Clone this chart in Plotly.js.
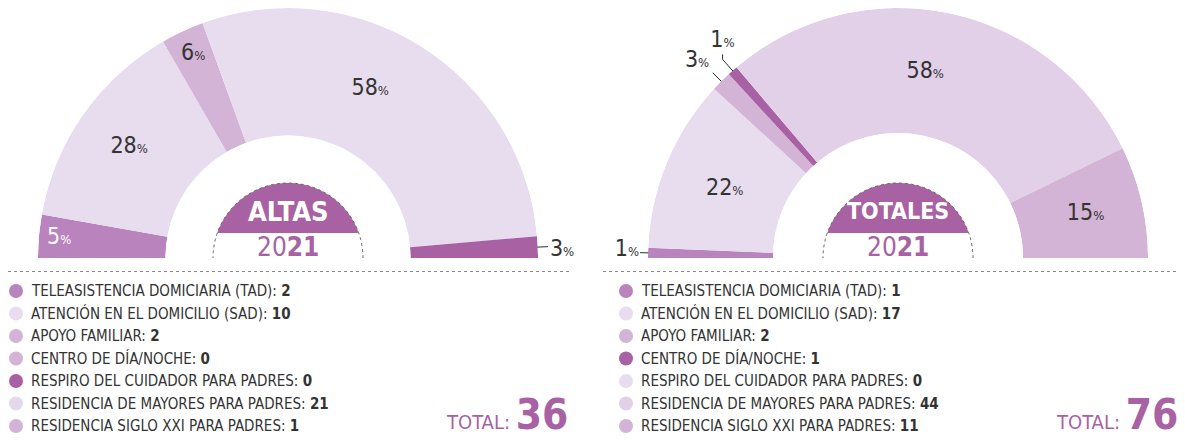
<!DOCTYPE html>
<html><head><meta charset="utf-8">
<script src="https://cdn.plot.ly/plotly-3.0.1.min.js"></script>
<style>html,body{margin:0;padding:0;background:#fff}#chart{width:1185px;height:441px}</style>
</head><body><div id="chart"></div>
<script>
// ---------------- DATA ----------------
const categories = [
  "TELEASISTENCIA DOMICIARIA (TAD)",
  "ATENCIÓN EN EL DOMICILIO (SAD)",
  "APOYO FAMILIAR",
  "CENTRO DE DÍA/NOCHE",
  "RESPIRO DEL CUIDADOR PARA PADRES",
  "RESIDENCIA DE MAYORES PARA PADRES",
  "RESIDENCIA SIGLO XXI PARA PADRES"
];
const altasValues   = [2, 10, 2, 0, 0, 21, 1];
const totalesValues = [1, 17, 2, 1, 0, 44, 11];
const altasPctLabels   = ["5", "28", "6", "", "", "58", "3"];
const totalesPctLabels = ["1", "22", "3", "1", "", "58", "15"];
const chartTitles = ["ALTAS", "TOTALES"];
const yearLabel = ["20", "21"];
const totalLabel = "TOTAL:";

// ---------------- STYLE ----------------
const W = 1185, H = 441;
const px = x => x / W;
const py = y => 1 - y / H;
const TXT = '#333333';
const PURPLE = '#a862a3';
const NARROW = '"Liberation Sans Narrow", "DejaVu Sans Condensed", sans-serif';
const COND = '"DejaVu Sans Condensed", "Liberation Sans Narrow", sans-serif';
const PCT = n => n + '<span style="font-size:13px">%</span>';

const charts = [
  {
    values: altasValues, pct: altasPctLabels, title: chartTitles[0], titleSize: 27,
    cx: 288, cy: 258, R: 250, hole: 0.49, subplot: 'polar',
    sliceColors:  ['#b983bd','#e8dcef','#d3b3d6','#d3b3d6','#a862a3','#e8dcef','#a862a3'],
    legendColors: ['#b983bd','#e8dcef','#d3b3d6','#d3b3d6','#a862a3','#e6d8ec','#d3b3d6'],
    // label placement: radius (polar r units), theta offset, text colour, leader [r1, r2]
    lab: [
      {r:0.84, dt:0, c:'#ffffff'},
      {r:0.56, dt:0, c:TXT},
      {r:0.80, dt:0, c:TXT},
      null, null,
      {r:0.51, dt:6.5, c:TXT},
      {r:1.19, dt:-0.8, c:TXT, lead:[0.93, 1.08]}
    ],
    legendX: 16, dotLine: [8, 572], totalRight: 570
  },
  {
    values: totalesValues, pct: totalesPctLabels, title: chartTitles[1], titleSize: 23,
    cx: 898, cy: 258, R: 250, hole: 0.5, subplot: 'polar2',
    sliceColors:  ['#b983bd','#e8dcef','#d3b3d6','#a862a3','#e8dcef','#e1d0e7','#d3b3d6'],
    legendColors: ['#b983bd','#e8dcef','#d3b3d6','#a862a3','#e8dcef','#e1d0e7','#d3b3d6'],
    lab: [
      {r:1.17, dt:-0.5, c:TXT, lead:[0.944, 1.064]},
      {r:0.49, dt:1, c:TXT},
      {r:1.25, dt:0.6, c:TXT, lead:[0.96, 1.096]},
      {r:1.23, dt:-2.4, c:TXT, lead:[0.99, 1.12], up:5},
      null,
      {r:0.50, dt:3.5, c:TXT},
      {r:0.54, dt:0, c:TXT}
    ],
    legendX: 626, dotLine: [603, 1176], totalRight: 1180
  }
];

const rowY = [291, 313.5, 336, 358.5, 381, 403.5, 426];

const traces = [];
const shapes = [];
const annotations = [];
const layout = {
  width: W, height: H, autosize: false,
  margin: {l:0, r:0, t:0, b:0},
  paper_bgcolor: '#ffffff', plot_bgcolor: 'rgba(0,0,0,0)',
  showlegend: false,
  // full-figure pixel axes used for labels that sit outside the rings
  xaxis: {range: [0, W], domain: [0, 1], visible: false, fixedrange: true},
  yaxis: {range: [H, 0], domain: [0, 1], visible: false, fixedrange: true},
  shapes, annotations
};

charts.forEach(ch => {
  const total = ch.values.reduce((a, b) => a + b, 0);
  const inner = ch.hole * ch.R, band = ch.R - inner;
  const toXY = (r, deg) => {
    const rp = inner + r * band, a = deg * Math.PI / 180;
    return [ch.cx + rp * Math.cos(a), ch.cy - rp * Math.sin(a)];
  };
  // angular geometry from values
  let cum = 0;
  const mids = [], widths = [];
  ch.values.forEach(v => {
    widths.push(v / total * 180);
    mids.push(180 - (cum + v / 2) / total * 180);
    cum += v;
  });
  const idx = ch.values.map((v, i) => i).filter(i => ch.values[i] > 0);

  traces.push({
    type: 'barpolar', subplot: ch.subplot,
    r: idx.map(() => 1),
    theta: idx.map(i => mids[i]),
    width: idx.map(i => widths[i]),
    marker: {color: idx.map(i => ch.sliceColors[i]), line: {width: 0}},
    hoverinfo: 'skip'
  });

  // inside percentage labels (polar)
  const li = idx.filter(i => ch.lab[i] && !ch.lab[i].lead && ch.pct[i] !== "");
  traces.push({
    type: 'scatterpolar', subplot: ch.subplot, mode: 'text',
    r: li.map(i => ch.lab[i].r),
    theta: li.map(i => mids[i] + ch.lab[i].dt),
    text: li.map(i => PCT(ch.pct[i])),
    textposition: 'middle center',
    textfont: {family: COND, size: 23, color: li.map(i => ch.lab[i].c)},
    cliponaxis: false, hoverinfo: 'skip'
  });

  // outside labels with leader lines (pixel axes)
  const lo = idx.filter(i => ch.lab[i] && ch.lab[i].lead);
  const lx = [], ly = [];
  lo.forEach(i => {
    const l = ch.lab[i];
    const p1 = toXY(l.lead[0], mids[i]), p2 = toXY(l.lead[1], mids[i]);
    lx.push(p1[0], p2[0]); ly.push(p1[1], p2[1]);
    if (l.up) { lx.push(p2[0]); ly.push(p2[1] - l.up); }
    lx.push(null); ly.push(null);
  });
  traces.push({
    type: 'scatter', xaxis: 'x', yaxis: 'y', mode: 'lines',
    x: lx, y: ly, line: {color: '#2b2b2b', width: 1},
    cliponaxis: false, hoverinfo: 'skip', connectgaps: false
  });
  traces.push({
    type: 'scatter', xaxis: 'x', yaxis: 'y', mode: 'text',
    x: lo.map(i => toXY(ch.lab[i].r, mids[i] + ch.lab[i].dt)[0]),
    y: lo.map(i => toXY(ch.lab[i].r, mids[i] + ch.lab[i].dt)[1]),
    text: lo.map(i => PCT(ch.pct[i])),
    textposition: 'middle center',
    textfont: {family: COND, size: 23, color: lo.map(i => ch.lab[i].c)},
    cliponaxis: false, hoverinfo: 'skip'
  });

  layout[ch.subplot] = {
    domain: {x: [px(ch.cx - ch.R), px(ch.cx + ch.R)], y: [py(ch.cy), py(ch.cy - ch.R)]},
    sector: [0, 180], hole: ch.hole, bgcolor: 'rgba(0,0,0,0)', bargap: 0,
    radialaxis: {visible: false, range: [0, 1], showgrid: false, showline: false, showticklabels: false},
    angularaxis: {visible: false, rotation: 0, direction: 'counterclockwise', thetaunit: 'degrees',
                  showgrid: false, showline: false, showticklabels: false}
  };

  // centre dome
  const dr = 75, chordY = 233;
  const a0 = Math.asin((ch.cy - chordY) / dr) * 180 / Math.PI;
  let p = '';
  for (let k = 0; k <= 60; k++) {
    const a = (a0 + (180 - 2 * a0) * k / 60) * Math.PI / 180;
    const x = ch.cx + dr * Math.cos(a), y = ch.cy - dr * Math.sin(a);
    p += (k ? ' L' : 'M') + px(x).toFixed(5) + ',' + py(y).toFixed(5);
  }
  shapes.push({type: 'path', xref: 'paper', yref: 'paper', path: p + ' Z',
               fillcolor: PURPLE, line: {width: 0}});
  let q = '';
  for (let k = 0; k <= 90; k++) {
    const a = (180 * k / 90) * Math.PI / 180;
    const x = ch.cx + dr * Math.cos(a), y = ch.cy - dr * Math.sin(a);
    q += (k ? ' L' : 'M') + px(x).toFixed(5) + ',' + py(y).toFixed(5);
  }
  shapes.push({type: 'path', xref: 'paper', yref: 'paper', path: q,
               line: {color: '#6a6a6a', width: 1, dash: 'dot'}});

  annotations.push({
    xref: 'paper', yref: 'paper', x: px(ch.cx), y: py(211), xanchor: 'center', yanchor: 'middle',
    text: '<b>' + ch.title + '</b>', showarrow: false,
    font: {family: COND, size: ch.titleSize, color: '#ffffff'}
  });
  annotations.push({
    xref: 'paper', yref: 'paper', x: px(ch.cx), y: py(247), xanchor: 'center', yanchor: 'middle',
    text: yearLabel[0] + '<b>' + yearLabel[1] + '</b>', showarrow: false,
    font: {family: COND, size: 26, color: PURPLE}
  });

  // dotted separator
  shapes.push({type: 'line', xref: 'paper', yref: 'paper',
    x0: px(ch.dotLine[0]), x1: px(ch.dotLine[1]), y0: py(271.5), y1: py(271.5),
    line: {color: '#8a8a8a', width: 1, dash: 'dot'}});

  // legend
  categories.forEach((c, i) => {
    const cy = rowY[i], cx = ch.legendX, rr = 7;
    shapes.push({type: 'circle', xref: 'paper', yref: 'paper',
      x0: px(cx - rr), x1: px(cx + rr), y0: py(cy + rr), y1: py(cy - rr),
      fillcolor: ch.legendColors[i], line: {width: 0}});
    annotations.push({
      xref: 'paper', yref: 'paper', x: px(cx + 13), y: py(cy), xanchor: 'left', yanchor: 'middle',
      text: c + ': <b>' + ch.values[i] + '</b>', showarrow: false,
      font: {family: NARROW, size: 15, color: TXT}
    });
  });

  // total
  annotations.push({
    xref: 'paper', yref: 'paper', x: px(ch.totalRight), y: py(441), xanchor: 'right', yanchor: 'bottom',
    text: totalLabel + ' <b><span style="font-size:42px">' + total + '</span></b>', showarrow: false,
    font: {family: NARROW, size: 20, color: PURPLE}
  });
});

Plotly.newPlot('chart', traces, layout, {staticPlot: true, displayModeBar: false});
</script>
</body></html>
